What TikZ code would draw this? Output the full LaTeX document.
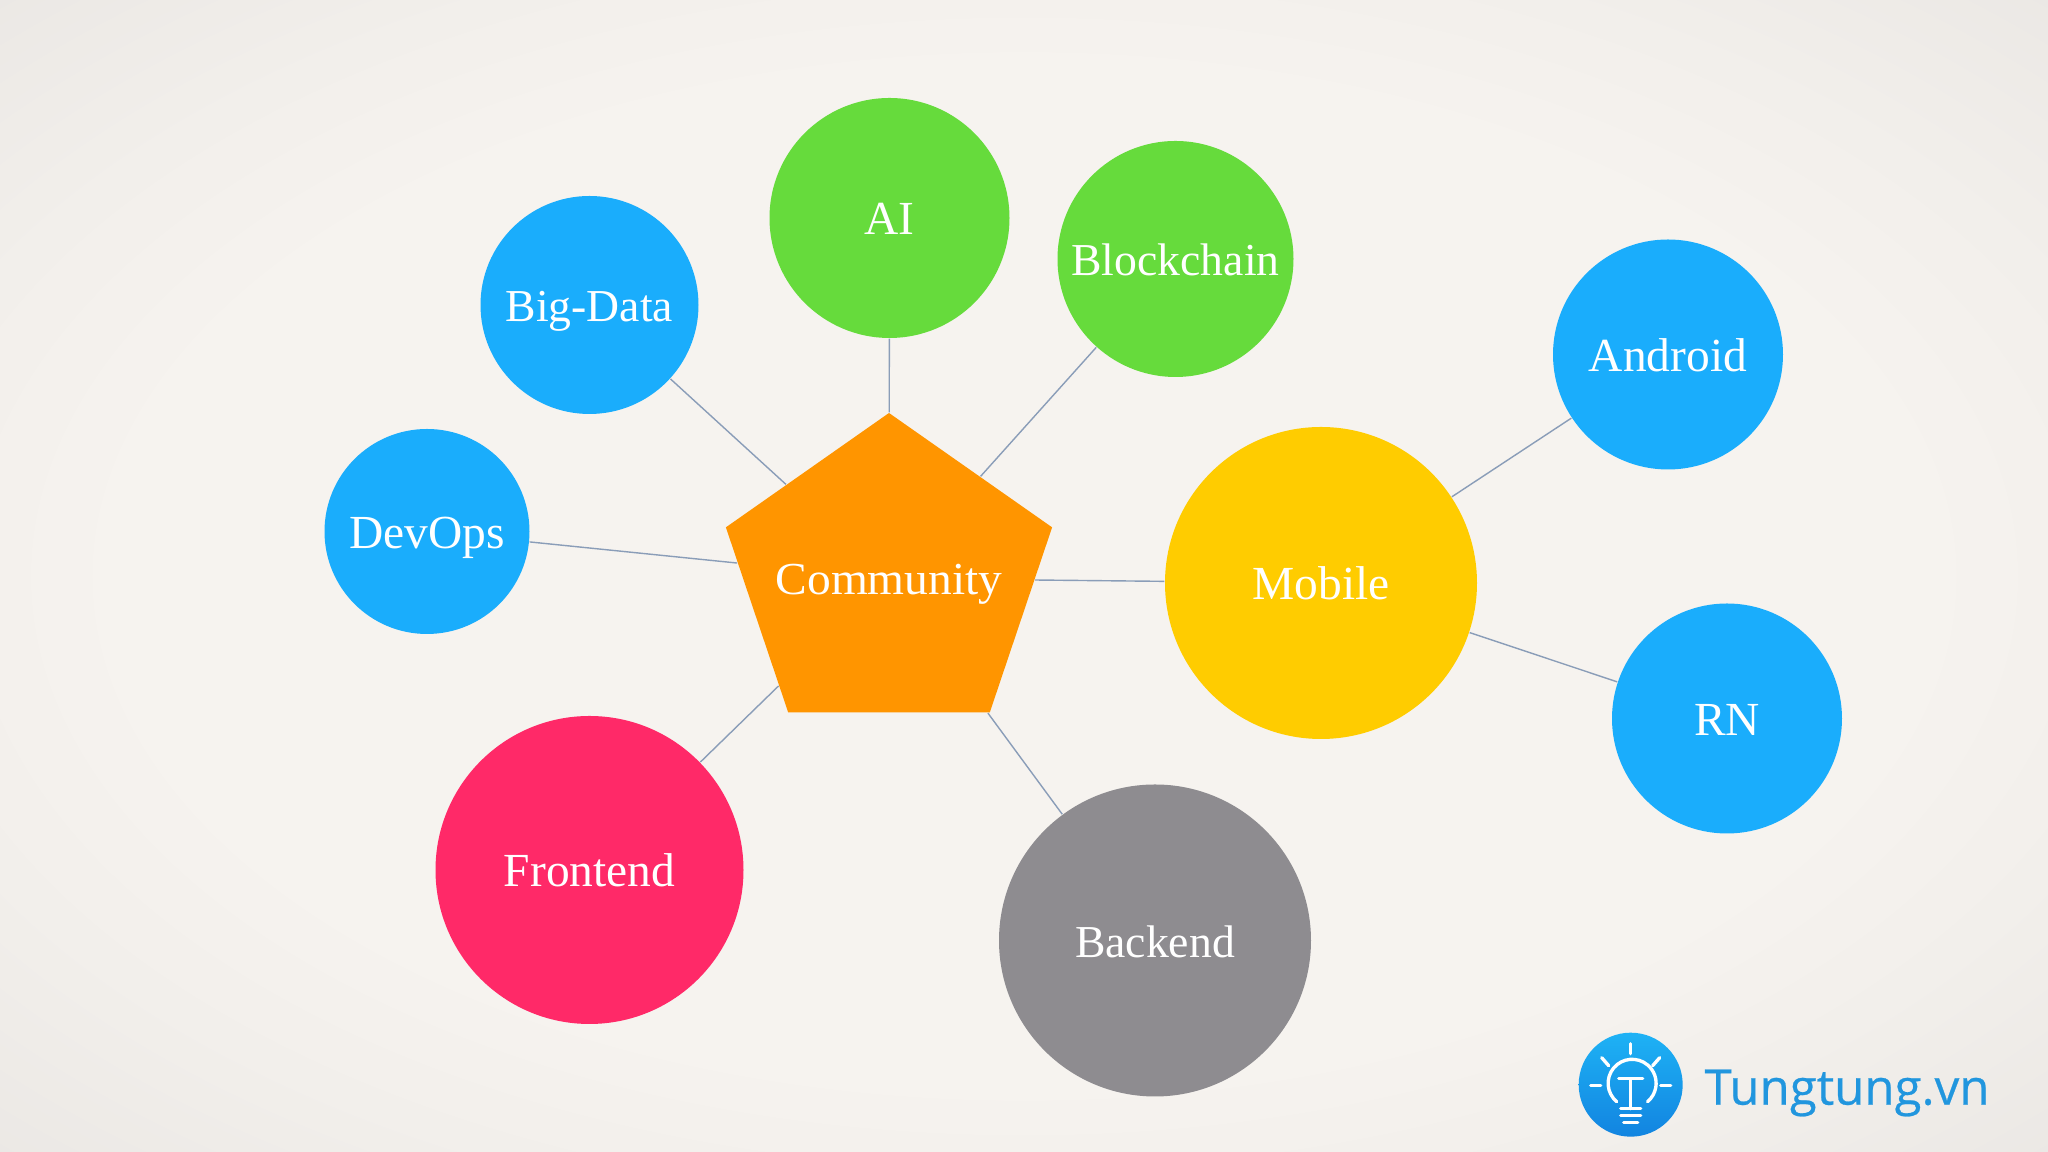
\documentclass[tikz,border=0pt]{standalone}
\usepackage{xcolor}
\usepackage{fontspec}
\usepackage{tikz}
\usetikzlibrary{shapes.geometric}
\setmainfont{Liberation Serif}
\newfontfamily\logofont[FakeBold=0.5]{Open Sans}
\definecolor{paperin}{HTML}{F6F3EF}
\definecolor{papermid}{HTML}{F2EFEB}
\definecolor{paperout}{HTML}{E7E4E1}
\definecolor{bluebub}{HTML}{1AADFC}
\definecolor{greenbub}{HTML}{66DB3C}
\definecolor{yellowbub}{HTML}{FFCC00}
\definecolor{pinkbub}{HTML}{FF2968}
\definecolor{graybub}{HTML}{8E8C90}
\definecolor{orangebub}{HTML}{FF9500}
\definecolor{linkcol}{HTML}{8A9DB8}
\definecolor{logotop}{HTML}{1EB2F5}
\definecolor{logobot}{HTML}{1284E0}
\definecolor{logotext}{HTML}{2196DE}
\pgfdeclareradialshading{papershade}{\pgfpoint{0bp}{0bp}}{
    color(0bp)=(paperin); color(22bp)=(paperin); color(28bp)=(papermid); color(40bp)=(paperout); color(50bp)=(paperout)}
\tikzset{
    lettering/.style={text=white, text height=0.44cm, text depth=0.10cm, font=\fontsize{13.5pt}{16pt}\selectfont},
    bubble/.style={circle, draw=none, inner sep=0pt, lettering},
    link/.style={draw=linkcol, line width=0.4pt},
    bulb/.style={draw=white, line width=0.95pt, line cap=round},
}

\begin{document}
\begin{tikzpicture}
    \useasboundingbox (0,0) rectangle (20.48,11.52);
    \shade[shading=papershade] (0,0) rectangle (20.48,11.52);

    \node[regular polygon, regular polygon sides=5, draw=none, fill=orangebub, minimum size=3.43cm, inner sep=0pt, yscale=0.965, transform shape, lettering] (community) at (8.89,5.735) {\makebox[0pt]{Community}};

    \node[bubble, fill=greenbub, minimum size=2.40cm] (ai) at (8.895,9.34) {AI};
    \node[bubble, fill=greenbub, minimum size=2.36cm, font=\fontsize{13pt}{16pt}\selectfont] (blockchain) at (11.755,8.93) {Blockchain};
    \node[bubble, fill=bluebub, minimum size=2.18cm, font=\fontsize{13pt}{16pt}\selectfont] (bigdata) at (5.895,8.47) {Big-Data};
    \node[bubble, fill=bluebub, minimum size=2.05cm] (devops) at (4.27,6.205) {DevOps};
    \node[bubble, fill=pinkbub, minimum size=3.08cm] (frontend) at (5.895,2.82) {Frontend};
    \node[bubble, fill=graybub, minimum size=3.12cm, font=\fontsize{13pt}{16pt}\selectfont] (backend) at (11.55,2.115) {Backend};
    \node[bubble, fill=yellowbub, minimum size=3.12cm] (mobile) at (13.21,5.69) {Mobile};
    \node[bubble, fill=bluebub, minimum size=2.30cm] (android) at (16.68,7.975) {Android};
    \node[bubble, fill=bluebub, minimum size=2.30cm] (rn) at (17.27,4.335) {RN};

    \draw[link] (ai) -- (community);
    \draw[link] (blockchain) -- (community);
    \draw[link] (bigdata) -- (community);
    \draw[link] (devops) -- (community);
    \draw[link] (frontend) -- (community);
    \draw[link] (backend) -- (community);
    \draw[link] (mobile) -- (community);
    \draw[link] (android) -- (mobile);
    \draw[link] (rn) -- (mobile);

    \node[circle, draw=none, inner sep=0pt, minimum size=1.04cm, top color=logotop, bottom color=logobot] (logo) at (16.307,0.673) {};
    \draw[bulb] (logo.center) ++(0,0.41) -- ++(0,-0.10);
    \draw[bulb] (logo.center) ++(-0.29,0.27) -- ++(0.07,-0.08);
    \draw[bulb] (logo.center) ++(0.29,0.27) -- ++(-0.07,-0.08);
    \draw[bulb] (logo.center) ++(-0.40,-0.01) -- ++(0.10,0);
    \draw[bulb] (logo.center) ++(0.40,-0.01) -- ++(-0.10,0);
    \draw[bulb] (logo.center) ++(-0.14,-0.17) arc (230:-50:0.24);
    \draw[bulb] (logo.center) ++(-0.12,0.06) -- ++(0.24,0);
    \draw[bulb] (logo.center) ++(0,0.06) -- ++(0,-0.30);
    \draw[bulb] (logo.center) ++(-0.10,-0.24) -- ++(0.20,0);
    \draw[bulb] (logo.center) ++(-0.10,-0.31) -- ++(0.20,0);
    \draw[bulb] (logo.center) ++(-0.07,-0.38) -- ++(0.14,0);

    \node[text=logotext, font=\logofont\fontsize{14pt}{16pt}\selectfont, inner sep=0pt] (tungtung) at (18.47,0.59) {Tungtung.vn};
\end{tikzpicture}
\end{document}
